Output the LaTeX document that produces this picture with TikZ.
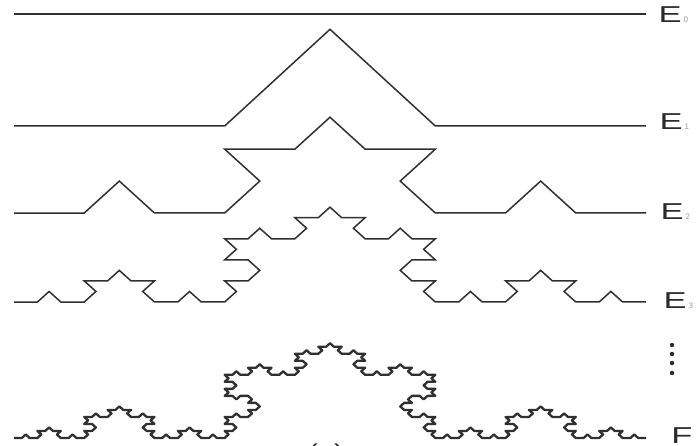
\documentclass[tikz,border=0pt]{standalone}
\usepackage{fontspec}
\setmainfont{Liberation Sans}
\usetikzlibrary{lindenmayersystems}
\pgfdeclarelindenmayersystem{KochLine}{\rule{F -> F+F--F+F}}
\definecolor{curvecol}{HTML}{303030}
\definecolor{labcol}{HTML}{2A2A2A}
\definecolor{subcol}{HTML}{9A9A9A}
\begin{document}
\begin{tikzpicture}[x=1pt,y=1pt,
  koch/.style={draw=curvecol, line width=1.5pt, line join=miter, line cap=butt},
  lab/.style={font=\fontsize{23}{23}\selectfont, text=labcol, inner sep=0pt, xscale=1.5},
  sub/.style={font=\fontsize{8}{8}\selectfont, text=subcol, inner sep=0pt, anchor=south west}]
\useasboundingbox (0,0) rectangle (700,445);
\fill[white] (0,0) rectangle (700,445);

% E0
\draw[koch] (14,431) -- (646,431);
% E1
\begin{scope}[shift={(14,319)}, yscale=0.53]
\draw[koch, lindenmayer system={KochLine, axiom=F, order=1, step=210.667pt, angle=60}] lindenmayer system;
\end{scope}
% E2
\begin{scope}[shift={(14,232)}, yscale=0.525]
\draw[koch, lindenmayer system={KochLine, axiom=F, order=2, step=70.222pt, angle=60}] lindenmayer system;
\end{scope}
% E3
\begin{scope}[shift={(14,143)}, yscale=0.52]
\draw[koch, lindenmayer system={KochLine, axiom=F, order=3, step=23.407pt, angle=60}] lindenmayer system;
\end{scope}
% F
\begin{scope}[shift={(14,7)}, yscale=0.52]
\draw[koch, line width=2.3pt, line join=round, lindenmayer system={KochLine, axiom=F, order=4, step=7.8025pt, angle=60}] lindenmayer system;
\end{scope}

% labels
\node[lab] (e0) at (670,430) {E};
\node[sub] (s0) at ([xshift=1.5pt]e0.south east) {0};
\node[lab] (e1) at (671,323) {E};
\node[sub] (s1) at ([xshift=1.5pt]e1.south east) {1};
\node[lab] (e2) at (672,233) {E};
\node[sub] (s2) at ([xshift=1.5pt]e2.south east) {2};
\node[lab] (e3) at (675,144) {E};
\node[sub] (s3) at ([xshift=1.5pt]e3.south east) {3};
\node[lab] (ef) at (682,9) {F};

% dots
\foreach \yy in {100,91,82,72} \fill[labcol] (672,\yy) circle (2.2);

% caption
\node[lab, xscale=0.85] (cap) at (326,-10) {(a)};
\end{tikzpicture}
\end{document}
